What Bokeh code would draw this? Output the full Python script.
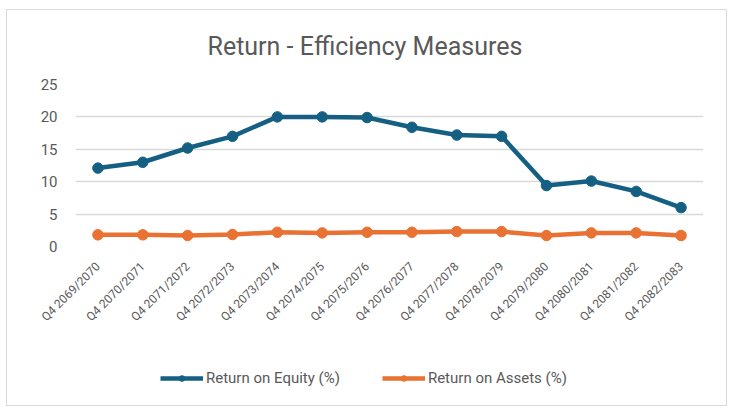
from bokeh.plotting import figure
from bokeh.models import FactorRange, Range1d, FixedTicker, Legend, LegendItem, ColumnDataSource
from bokeh.layouts import column
from bokeh.embed import file_html
from bokeh.resources import INLINE
import math

categories = ["Q4 2069/2070", "Q4 2070/2071", "Q4 2071/2072", "Q4 2072/2073",
              "Q4 2073/2074", "Q4 2074/2075", "Q4 2075/2076", "Q4 2076/2077",
              "Q4 2077/2078", "Q4 2078/2079", "Q4 2079/2080", "Q4 2080/2081",
              "Q4 2081/2082", "Q4 2082/2083"]
roe = [12.1, 13.0, 15.2, 17.0, 20.0, 20.0, 19.9, 18.4, 17.2, 17.0, 9.4, 10.1, 8.5, 6.0]
roa = [1.8, 1.8, 1.7, 1.85, 2.2, 2.1, 2.2, 2.2, 2.3, 2.3, 1.7, 2.1, 2.1, 1.7]
y_ticks = [0, 5, 10, 15, 20, 25]
series_names = ["Return on Equity (%)", "Return on Assets (%)"]

FONT = "Roboto"
GREY = "#595959"
BLUE = "#156082"
ORANGE = "#E97132"

src = ColumnDataSource(dict(x=categories, roe=roe, roa=roa))

# ---- main chart ----
p = figure(width=719, height=330, output_backend="svg", toolbar_location=None,
           x_range=FactorRange(*categories, range_padding=0),
           y_range=Range1d(0, 25),
           min_border_left=68, min_border_right=23, min_border_top=74,
           min_border_bottom=94,
           title="Return - Efficiency Measures")

p.title.align = "left"
p.title.vertical_align = "top"
p.title.text_font = FONT
p.title.text_font_size = "25px"
p.title.text_font_style = "normal"
p.title.text_color = GREY
p.title.offset = 132
p.title.standoff = 43

p.outline_line_color = None
p.xgrid.grid_line_color = None
p.ygrid.grid_line_color = "#d9d9d9"
p.ygrid.grid_line_width = 1.3

p.yaxis.ticker = FixedTicker(ticks=y_ticks)
for ax in (p.xaxis, p.yaxis):
    ax.axis_line_color = None
    ax.major_tick_line_color = None
    ax.minor_tick_line_color = None
    ax.major_tick_out = 0
    ax.major_tick_in = 0
    ax.major_label_text_font = FONT
    ax.major_label_text_color = GREY
p.yaxis.major_label_text_font_size = "15px"
p.xaxis.major_label_text_font_size = "12px"
p.yaxis.major_label_standoff = 18
p.xaxis.major_label_orientation = math.pi / 4
p.xaxis.major_label_standoff = 18

p.line("x", "roe", source=src, line_color=BLUE, line_width=4.5)
p.scatter("x", "roe", source=src, size=10.5, fill_color=BLUE, line_color=BLUE)
p.line("x", "roa", source=src, line_color=ORANGE, line_width=4.5)
p.scatter("x", "roa", source=src, size=10.5, fill_color=ORANGE, line_color=ORANGE)

# ---- legend strip (same series, hidden glyphs; only the legend shows) ----
lf = figure(width=719, height=65, output_backend="svg", toolbar_location=None,
            x_range=FactorRange(*categories, range_padding=0), y_range=Range1d(0, 25),
            x_axis_type=None, y_axis_type=None,
            min_border_left=0, min_border_right=0, min_border_top=0, min_border_bottom=0)
lf.outline_line_color = None
lf.xgrid.grid_line_color = None
lf.ygrid.grid_line_color = None
l1l = lf.line("x", "roe", source=src, line_color=BLUE, line_width=4.5, visible=False)
l1c = lf.scatter("x", "roe", source=src, size=10.5, fill_color=BLUE, line_color=BLUE, visible=False)
l2l = lf.line("x", "roa", source=src, line_color=ORANGE, line_width=4.5, visible=False)
l2c = lf.scatter("x", "roa", source=src, size=10.5, fill_color=ORANGE, line_color=ORANGE, visible=False)

legend = Legend(items=[LegendItem(label=series_names[0], renderers=[l1l, l1c]),
                       LegendItem(label=series_names[1], renderers=[l2l, l2c])],
                orientation="horizontal", location=(85, 18),
                border_line_color=None, background_fill_alpha=0,
                inactive_fill_alpha=0,
                label_text_font=FONT, label_text_font_size="15px", label_text_color=GREY,
                glyph_width=43, glyph_height=14, label_standoff=3, spacing=42,
                padding=0, margin=0)
lf.add_layout(legend, "center")

layout = column(p, lf, spacing=0,
                styles={"border": "1px solid #d9d9d9", "margin-left": "6px", "margin-top": "9px"})

open("out.html", "w").write(file_html(layout, INLINE))
